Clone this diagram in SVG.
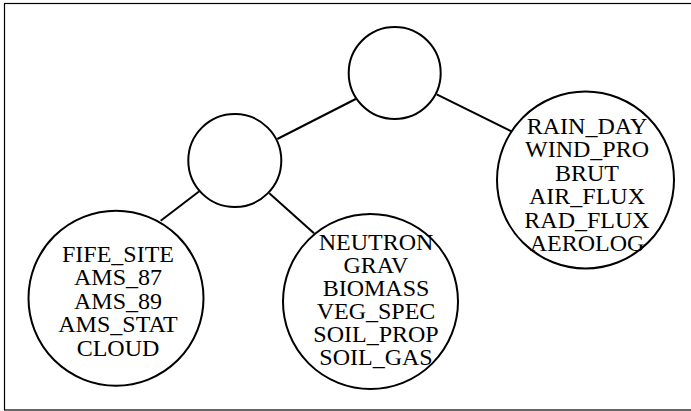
<svg xmlns="http://www.w3.org/2000/svg" width="691" height="411" viewBox="0 0 691 411">
<style>
.node circle{fill:#fff;stroke:#000;stroke-width:2}
.edge line{stroke:#000;stroke-width:2}
text{font-family:"Liberation Serif","Times New Roman",serif;font-size:24px;fill:#000;text-anchor:middle}
</style>
<rect x="0" y="0" width="691" height="411" fill="#fff"/>
<rect x="4.5" y="3.5" width="695" height="406.5" fill="none" stroke="#000" stroke-width="1.2"/>
<g id="edges" class="edge">
<line x1="355.7" y1="99" x2="277.3" y2="139"/>
<line x1="436.7" y1="94.3" x2="513.3" y2="132.3"/>
<line x1="199" y1="191.5" x2="160.7" y2="220.7"/>
<line x1="269.3" y1="193.3" x2="314" y2="233.3"/>
</g>
<g id="root" class="node"><circle cx="394.7" cy="73" r="46"/></g>
<g id="mid" class="node"><circle cx="234.8" cy="160.5" r="46.5"/></g>
<g id="leaf-left" class="node"><circle cx="116" cy="298.2" r="87.5"/>
<text x="118" y="261.5">FIFE_SITE</text>
<text x="118" y="285">AMS_87</text>
<text x="118" y="308.5">AMS_89</text>
<text x="118" y="332">AMS_STAT</text>
<text x="118" y="355.5">CLOUD</text>
</g>
<g id="leaf-middle" class="node"><circle cx="370.5" cy="301.5" r="87.5"/>
<text x="376" y="250">NEUTRON</text>
<text x="376" y="273">GRAV</text>
<text x="376" y="296">BIOMASS</text>
<text x="376" y="319">VEG_SPEC</text>
<text x="376" y="342">SOIL_PROP</text>
<text x="376" y="365">SOIL_GAS</text>
</g>
<g id="leaf-right" class="node"><circle cx="585.5" cy="180" r="88.5"/>
<text x="587" y="133.5">RAIN_DAY</text>
<text x="587" y="157">WIND_PRO</text>
<text x="587" y="180.5">BRUT</text>
<text x="587" y="204">AIR_FLUX</text>
<text x="587" y="227.5">RAD_FLUX</text>
<text x="587" y="251">AEROLOG</text>
</g>
</svg>
